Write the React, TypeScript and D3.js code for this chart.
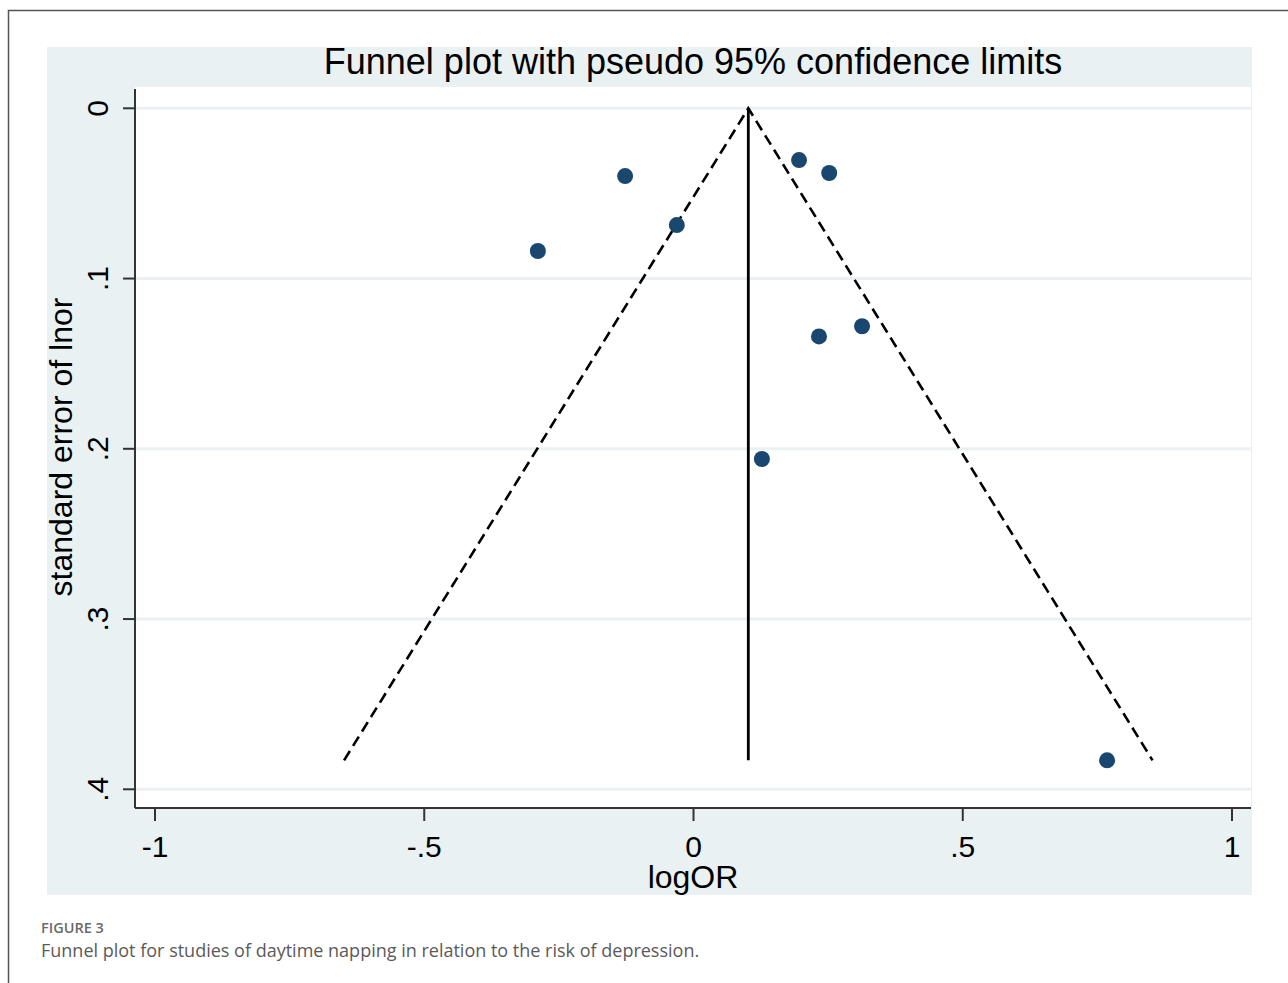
import React from "react";
import * as d3 from "d3";

const logOR = [-0.289, -0.127, -0.031, 0.196, 0.252, 0.313, 0.233, 0.127, 0.768];
const seLogOR = [0.0838, 0.0398, 0.0686, 0.0304, 0.0380, 0.128, 0.134, 0.206, 0.383];
const pooledLogOR = 0.1018;
const xTicks = [-1, -0.5, 0, 0.5, 1];
const xTickLabels = ["-1", "-.5", "0", ".5", "1"];
const yTicks = [0, 0.1, 0.2, 0.3, 0.4];
const yTickLabels = ["0", ".1", ".2", ".3", ".4"];

const W = 1288;
const H = 983;
const BG = "#eaf1f3";
const NAVY = "#1a476f";
const FONT = "'Liberation Sans', Arial, sans-serif";

export default function App() {
  const x = d3.scaleLinear().domain([-1, 1]).range([155, 1232]);
  const y = d3.scaleLinear().domain([0, 0.4]).range([108.3, 789.3]);
  const maxSE = d3.max(seLogOR) as number;

  const plotL = 135, plotR = 1251, plotT = 87, plotB = 808;

  const funnel = d3
    .line<[number, number]>()
    .x((d) => x(d[0]))
    .y((d) => y(d[1]));
  const funnelPts: [number, number][] = [
    [pooledLogOR - 1.96 * maxSE, maxSE],
    [pooledLogOR, 0],
    [pooledLogOR + 1.96 * maxSE, maxSE],
  ];
  const vert: [number, number][] = [
    [pooledLogOR, 0],
    [pooledLogOR, maxSE],
  ];

  return (
    <svg
      width={W}
      height={H}
      style={{ position: "absolute", left: 0, top: 0, background: "#fff" }}
    >
      {/* outer frame */}
      <path d={`M8.5,${H} L8.5,10.5 L${W},10.5`} fill="none" stroke="#555" strokeWidth={1.5} />
      {/* graph background */}
      <rect x={47} y={47} width={1252 - 47} height={895 - 47} fill={BG} />
      {/* plot region */}
      <rect x={plotL} y={plotT} width={plotR - plotL} height={plotB - plotT} fill="#fff" />
      {/* gridlines */}
      {yTicks.map((t) => (
        <line key={"g" + t} x1={plotL} x2={plotR} y1={y(t)} y2={y(t)} stroke={BG} strokeWidth={3} />
      ))}
      {/* axes */}
      <line x1={plotL} x2={plotL} y1={plotT + 2} y2={plotB} stroke="#333" strokeWidth={2} />
      <line x1={plotL} x2={plotR} y1={plotB} y2={plotB} stroke="#333" strokeWidth={2} />
      {yTicks.map((t, i) => (
        <g key={"y" + t}>
          <line x1={plotL - 12} x2={plotL} y1={y(t)} y2={y(t)} stroke="#333" strokeWidth={2} />
          <text
            transform={`translate(108,${y(t)}) rotate(-90)`}
            textAnchor="middle"
            fontFamily={FONT}
            fontSize={30}
            fill="#000"
          >
            {yTickLabels[i]}
          </text>
        </g>
      ))}
      {xTicks.map((t, i) => (
        <g key={"x" + t}>
          <line x1={x(t)} x2={x(t)} y1={plotB} y2={plotB + 13} stroke="#333" strokeWidth={2} />
          <text x={x(t)} y={857} textAnchor="middle" fontFamily={FONT} fontSize={30} fill="#000">
            {xTickLabels[i]}
          </text>
        </g>
      ))}
      {/* axis titles */}
      <text x={693} y={888} textAnchor="middle" fontFamily={FONT} fontSize={32} fill="#000">
        logOR
      </text>
      <text
        transform={`translate(72,447) rotate(-90)`}
        textAnchor="middle"
        fontFamily={FONT}
        fontSize={32}
        fill="#000"
      >
        standard error of lnor
      </text>
      {/* title */}
      <text x={693} y={74} textAnchor="middle" fontFamily={FONT} fontSize={36} fill="#000">
        Funnel plot with pseudo 95% confidence limits
      </text>
      {/* funnel */}
      <path d={funnel(funnelPts) || ""} fill="none" stroke="#000" strokeWidth={2.6} strokeDasharray="11,6" />
      <path d={funnel(vert) || ""} fill="none" stroke="#000" strokeWidth={2.8} />
      {/* points */}
      {logOR.map((v, i) => (
        <circle key={"p" + i} cx={x(v)} cy={y(seLogOR[i])} r={8} fill={NAVY} />
      ))}
      {/* caption */}
      <text x={41} y={933} fontFamily="'Open Sans', sans-serif" fontSize={14.5} fontWeight={600} fill="#6a6a6a">
        FIGURE 3
      </text>
      <text x={41} y={957} fontFamily="'Open Sans', sans-serif" fontSize={18} fill="#5a5a5a">
        Funnel plot for studies of daytime napping in relation to the risk of depression.
      </text>
    </svg>
  );
}
